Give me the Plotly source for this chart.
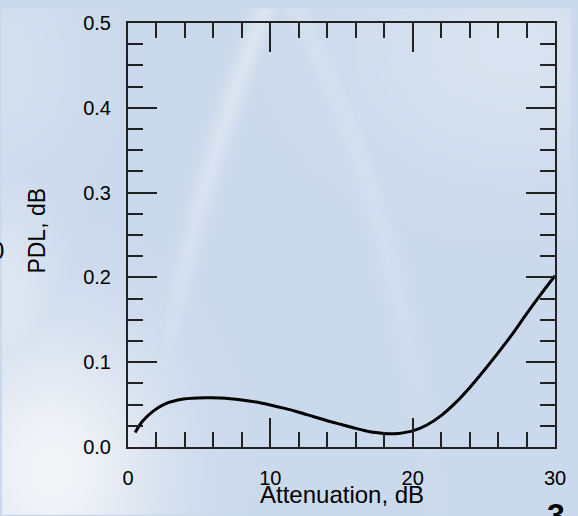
import numpy as np
import plotly.graph_objects as go
import zlib, struct, base64

# ---- data ----
attenuation_db = [0.5, 1, 1.75, 2.5, 3.5, 4.5, 5.5, 6.5, 8, 9, 10, 11, 12, 13, 14, 15,
                  16, 17, 18, 18.5, 19, 20, 21, 22, 23, 24, 25, 26, 27, 28, 29, 30]
pdl_db = [0.017, 0.030, 0.042, 0.050, 0.0555, 0.0575, 0.058, 0.0578, 0.0555, 0.053,
          0.0495, 0.0455, 0.041, 0.036, 0.031, 0.0265, 0.022, 0.018, 0.016, 0.0155,
          0.016, 0.019, 0.026, 0.037, 0.052, 0.070, 0.090, 0.111, 0.133, 0.157,
          0.180, 0.202]
x_tick_vals = [0, 10, 20, 30]
y_tick_vals = [0.0, 0.1, 0.2, 0.3, 0.4, 0.5]
y_tick_text = ["0.0", "0.1", "0.2", "0.3", "0.4", "0.5"]
x_title = "Attenuation, dB"
y_title = "PDL, dB"

# ---- background picture (decorative) ----
W, H = 578, 516
yy, xx = np.mgrid[0:H, 0:W].astype(float)
white = np.zeros((H, W))

def glow(cx, cy, rx, ry, a):
    global white
    white = np.maximum(white, a * np.exp(-((xx - cx) / rx) ** 2 - ((yy - cy) / ry) ** 2))

def streak(p0, p1, p2, width, a):
    global white
    t = np.linspace(0, 1, 60)
    bx = (1 - t) ** 2 * p0[0] + 2 * (1 - t) * t * p1[0] + t ** 2 * p2[0]
    by = (1 - t) ** 2 * p0[1] + 2 * (1 - t) * t * p1[1] + t ** 2 * p2[1]
    d = np.full((H, W), 1e9)
    for px, py in zip(bx, by):
        d = np.minimum(d, (xx - px) ** 2 + (yy - py) ** 2)
    fade = np.exp(-((yy - p0[1]) / 420) ** 2)
    white = np.maximum(white, a * fade * np.exp(-d / width ** 2))

glow(50, 470, 110, 140, 0.85)
glow(0, 300, 60, 110, 0.45)
glow(520, 40, 170, 130, 0.3)
glow(0, 60, 90, 120, 0.2)
streak((272, -10), (205, 150), (160, 380), 12, 0.4)
streak((292, -10), (400, 180), (440, 520), 14, 0.25)
base = np.array([203, 217, 236], dtype=float)
img = base[None, None, :] * (1 - white[..., None]) + 250 * white[..., None]
img = np.clip(img, 0, 255).astype(np.uint8)

def to_png(arr):
    h, w, _ = arr.shape
    raw = b"".join(b"\x00" + arr[i].tobytes() for i in range(h))
    def chunk(tag, data):
        c = struct.pack(">I", len(data)) + tag + data
        return c + struct.pack(">I", zlib.crc32(tag + data) & 0xffffffff)
    return (b"\x89PNG\r\n\x1a\n" + chunk(b"IHDR", struct.pack(">IIBBBBB", w, h, 8, 2, 0, 0, 0))
            + chunk(b"IDAT", zlib.compress(raw, 9)) + chunk(b"IEND", b""))

bg_uri = "data:image/png;base64," + base64.b64encode(to_png(img)).decode()

# ---- figure ----
L, R, T, B = 128, 16, 15, 69
pw, ph = W - L - R, H - T - B

def px_x(p):  # page pixel -> paper x
    return (p - L) / pw

def px_y(p):  # page pixel -> paper y
    return (H - B - p) / ph

fig = go.Figure()
fig.add_trace(go.Scatter(x=attenuation_db, y=pdl_db, mode="lines",
                         line=dict(color="black", width=3, shape="spline", smoothing=0.8),
                         showlegend=False, hoverinfo="skip"))

font = "Liberation Sans, Arial, sans-serif"
axis_common = dict(showline=True, linecolor="#222", linewidth=2, mirror="ticks",
                   ticks="inside", tickcolor="#222", tickwidth=1.5, ticklen=29,
                   showgrid=False, zeroline=False,
                   tickfont=dict(family=font, size=20, color="black"))

fig.update_xaxes(range=[0, 30], tickvals=x_tick_vals,
                 minor=dict(dtick=2, ticks="inside", ticklen=15, tickcolor="#222", tickwidth=1.5, showgrid=False),
                 ticklabelstandoff=12, **axis_common)
fig.update_yaxes(range=[0, 0.5], tickvals=y_tick_vals, ticktext=y_tick_text,
                 minor=dict(dtick=0.025, ticks="inside", ticklen=15, tickcolor="#222", tickwidth=1.5, showgrid=False),
                 ticklabelstandoff=11, **axis_common)

fig.add_layout_image(dict(source=bg_uri, xref="paper", yref="paper",
                          x=-L / pw, y=1 + T / ph, sizex=W / pw, sizey=H / ph,
                          xanchor="left", yanchor="top", sizing="stretch", layer="below"))

# axis titles
fig.add_annotation(text=x_title, xref="paper", yref="paper", x=px_x(346), y=px_y(495),
                   showarrow=False, xanchor="center", yanchor="middle",
                   font=dict(family=font, size=24, color="black"))
fig.add_annotation(text=y_title, xref="paper", yref="paper", x=px_x(36), y=px_y(226),
                   showarrow=False, xanchor="center", yanchor="middle", textangle=-90,
                   font=dict(family=font, size=23, color="black"))

# fragments of neighbouring slide text, cut by the picture edges
fig.add_annotation(text="0", xref="paper", yref="paper", x=px_x(4), y=px_y(247),
                   showarrow=False, xanchor="right", yanchor="middle",
                   font=dict(family=font, size=24, color="black"))
fig.add_annotation(text="<b>3</b>", xref="paper", yref="paper", x=px_x(552), y=px_y(537),
                   showarrow=False, xanchor="left", yanchor="bottom",
                   font=dict(family=font, size=32, color="black"))

fig.update_layout(width=W, height=H, margin=dict(l=L, r=R, t=T, b=B),
                  paper_bgcolor="rgb(203,217,236)", plot_bgcolor="rgba(0,0,0,0)",
                  font=dict(family=font))

fig.write_html("out.html", config={"displayModeBar": False},
               post_script="document.body.style.margin='0';document.body.style.overflow='hidden';")
